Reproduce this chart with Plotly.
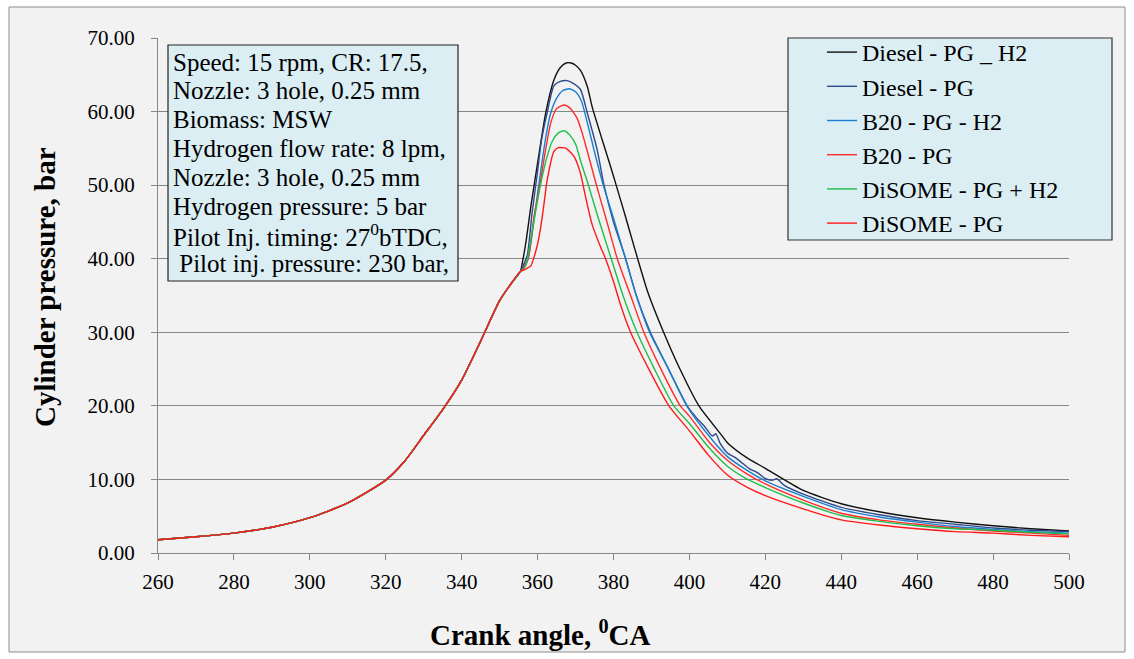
import plotly.graph_objects as go

# ---------------- data ----------------
# common compression stroke (all six curves overlap here)
angle_common = [260, 270, 280, 290, 300, 310, 320, 325, 330, 335, 340, 345, 350, 353, 355.5]
pressure_common = [1.8, 2.2, 2.7, 3.5, 4.8, 6.8, 9.9, 12.5, 16.0, 19.5, 23.5, 28.8, 34.3, 36.6, 38.3]

# combustion / expansion part of each curve
angle_diesel_pg_h2 = [356, 357, 358.2, 360, 362.1, 364.3, 366, 367.5, 368.8, 370, 371.3, 373.1, 374.4,
                      377, 379, 380.7, 383, 385.8, 389, 393.2, 397.5, 402.5, 408.2, 410, 415, 420,
                      430, 440, 450, 460, 470, 480, 490, 500]
p_diesel_pg_h2 = [39.5, 42.5, 47, 53, 59.7, 64.3, 66.0, 66.6, 66.6, 66.3, 65.6, 63.4, 60.6,
                  56.2, 52.9, 50, 46, 41, 35.5, 30, 25, 20, 16.2, 15.0, 13.0, 11.5,
                  8.5, 6.7, 5.6, 4.8, 4.2, 3.7, 3.3, 3.0]

angle_diesel_pg = [356, 357.3, 358.5, 359.9, 361, 362.5, 364.3, 366, 367.8, 369.5, 371.3, 373.1, 375.7,
                   377.5, 380, 383.2, 386, 389.7, 394.5, 399.4, 402, 404, 406, 407, 408, 410, 412,
                   414, 416, 418, 420, 422, 423, 425, 430, 440, 450, 460, 470, 480, 490, 500]
p_diesel_pg = [38.8, 40.5, 46, 51.5, 56, 59.8, 63.5, 64.1, 64.2, 63.8, 63.0, 59.8, 54.8,
               50, 45, 40, 35, 30, 25, 20, 18.3, 17.2, 15.9, 16.2, 15.0, 13.6, 13.0,
               12.2, 11.4, 10.9, 10.1, 9.9, 10.1, 9.2, 8.0, 6.2, 5.2, 4.4, 3.9, 3.4, 3.1, 2.9]

angle_b20_pg_h2 = [356, 357.5, 359, 360.3, 362, 363.4, 365, 366.5, 368.3, 370, 371.5, 373.1, 375,
                   377.3, 380, 383, 386, 389.5, 394.5, 399.3, 405, 410, 415, 420, 430, 440, 450,
                   460, 470, 480, 490, 500]
p_b20_pg_h2 = [38.6, 40, 45, 50, 56, 59.7, 61.8, 62.8, 63.1, 62.7, 61.5, 58.5, 54.5,
               50, 45.5, 40.3, 35, 30, 25, 20, 16.0, 13.1, 11.3, 9.8, 7.7, 5.9, 4.9,
               4.2, 3.6, 3.2, 2.9, 2.7]

angle_b20_pg = [356, 357.5, 359, 360.6, 362, 363.5, 365, 367, 368.5, 370.4, 371.8, 373.1, 375.5,
                378, 381, 384.5, 388, 392.5, 397.6, 400, 405, 410, 415, 420, 430, 440, 450,
                460, 470, 480, 490, 500]
p_b20_pg = [38.5, 40, 45.5, 50, 54.5, 58.5, 60.4, 60.9, 60.5, 59.1, 57, 54.6, 50,
            45.5, 40, 35, 30, 25, 20, 18.6, 15.2, 12.6, 10.8, 9.4, 7.2, 5.4, 4.5,
            3.9, 3.4, 3.0, 2.7, 2.4]

angle_disome_pg_h2 = [356, 357, 358.2, 359.5, 360.8, 362.3, 363.9, 365.5, 367, 368.5, 370, 371.5,
                      373.1, 375.7, 379.4, 382.5, 386.2, 390.8, 395.9, 400, 405, 410, 415, 420,
                      430, 440, 450, 460, 470, 480, 490, 500]
p_disome_pg_h2 = [38.4, 39.2, 42.6, 46.5, 50.1, 53.5, 56, 57.1, 57.4, 56.8, 55.6, 53,
                  50.5, 46, 40, 35, 30, 25, 20, 17.6, 14.4, 11.8, 10.1, 8.9,
                  6.8, 5.1, 4.3, 3.7, 3.3, 3.1, 2.8, 2.6]

angle_disome_pg = [356, 357.2, 358.2, 359, 360, 360.8, 361.7, 362.5, 364.3, 365.5, 367.5, 369.6,
                   371.3, 372.6, 374.4, 376.6, 377.9, 380, 382, 384.5, 389.3, 394.6, 400, 405,
                   410, 415, 420, 430, 440, 450, 460, 470, 480, 490, 500]
p_disome_pg = [38.4, 38.7, 39, 40.1, 42, 44.2, 47.5, 50.6, 54.6, 55.1, 55.0, 53.9,
               51.6, 48.5, 44.6, 41.6, 40, 36.9, 33.5, 30, 25, 20, 16.6, 13.3,
               10.6, 9.0, 7.8, 6.0, 4.5, 3.8, 3.3, 2.9, 2.7, 2.4, 2.2]

series_names = ["Diesel - PG _ H2", "Diesel - PG", "B20 - PG - H2", "B20 - PG",
                "DiSOME - PG + H2", "DiSOME - PG"]
series_colors = ["#111111", "#2e4a8c", "#1a7fd0", "#ff2a2a", "#1fbf4a", "#ff1a1a"]
series_angles = [angle_diesel_pg_h2, angle_diesel_pg, angle_b20_pg_h2, angle_b20_pg,
                 angle_disome_pg_h2, angle_disome_pg]
series_pressures = [p_diesel_pg_h2, p_diesel_pg, p_b20_pg_h2, p_b20_pg, p_disome_pg_h2, p_disome_pg]

y_ticks = [0, 10, 20, 30, 40, 50, 60, 70]
x_ticks = [260, 280, 300, 320, 340, 360, 380, 400, 420, 440, 460, 480, 500]

note_lines = ["Speed: 15 rpm, CR: 17.5,", "Nozzle: 3 hole, 0.25 mm", "Biomass: MSW",
              "Hydrogen flow rate: 8 lpm,", "Nozzle: 3 hole, 0.25 mm",
              "Hydrogen pressure: 5 bar", "Pilot Inj. timing: 27<sup>0</sup>bTDC,",
              "\u00a0Pilot inj. pressure: 230 bar,"]

# ---------------- figure ----------------
W, H = 1134, 659
L, R, T, B = 158, 65, 38, 106
pw, ph = W - L - R, H - T - B

def px(xp):
    return (xp - L) / pw

def py(yp):
    return (H - B - yp) / ph

FONT = "Liberation Serif, Times New Roman, serif"

fig = go.Figure()
for name, col, xs, ys in zip(series_names, series_colors, series_angles, series_pressures):
    fig.add_trace(go.Scatter(
        x=angle_common + xs, y=pressure_common + ys, mode="lines", name=name,
        line=dict(color=col, width=1.4, shape="spline", smoothing=0.6),
    ))

shapes = [
    # outer chart frame
    dict(type="rect", xref="paper", yref="paper", x0=px(9), x1=px(1125), y0=py(652), y1=py(7),
         fillcolor="#f2f2f2", line=dict(color="#8c8c8c", width=1), layer="below"),
    # legend box
    dict(type="rect", xref="paper", yref="paper", x0=px(788), x1=px(1112), y0=py(240), y1=py(38),
         fillcolor="#dbeef4", line=dict(color="#333333", width=1.2), layer="above"),
    # note box
    dict(type="rect", xref="paper", yref="paper", x0=px(168), x1=px(458), y0=py(281), y1=py(45),
         fillcolor="#dbeef4", line=dict(color="#222222", width=1.2), layer="above"),
]

annotations = [
    dict(text="<b>Cylinder pressure, bar</b>", xref="paper", yref="paper", x=px(45), y=py(287),
         showarrow=False, textangle=-90, font=dict(family=FONT, size=29, color="#000"),
         xanchor="center", yanchor="middle"),
    dict(text="<b>Crank angle, <sup>0</sup>CA</b>", xref="paper", yref="paper", x=px(540), y=py(633),
         showarrow=False, font=dict(family=FONT, size=29, color="#000"),
         xanchor="center", yanchor="middle"),
]
for i, line in enumerate(note_lines):
    annotations.append(dict(
        text=line, xref="paper", yref="paper", x=px(171), y=py(62 + 28.8 * i),
        xanchor="left", yanchor="middle", align="left", showarrow=False,
        font=dict(family=FONT, size=25, color="#000")))

fig.update_layout(
    width=W, height=H,
    margin=dict(l=L, r=R, t=T, b=B),
    paper_bgcolor="white",
    plot_bgcolor="rgba(0,0,0,0)",
    font=dict(family=FONT, color="#000000"),
    shapes=shapes,
    annotations=annotations,
    showlegend=True,
    legend=dict(
        x=px(822), y=py(30), xanchor="left", yanchor="top",
        bgcolor="rgba(0,0,0,0)", borderwidth=0,
        font=dict(family=FONT, size=24, color="#000000"),
        tracegroupgap=0, itemwidth=30,
    ),
    xaxis=dict(
        range=[260, 500], tickvals=x_ticks, ticktext=[str(v) for v in x_ticks],
        showgrid=False, zeroline=False, showline=True, linecolor="#868686", linewidth=1,
        ticks="outside", ticklen=6, tickcolor="#868686", ticklabelstandoff=4,
        tickfont=dict(family=FONT, size=21, color="#000000"),
    ),
    yaxis=dict(
        range=[0, 70], tickvals=y_ticks, ticktext=[f"{v:.2f}" for v in y_ticks],
        showgrid=True, gridcolor="#868686", gridwidth=1, zeroline=False,
        showline=True, linecolor="#868686", linewidth=1,
        ticks="outside", ticklen=6, tickcolor="#868686", ticklabelstandoff=12,
        tickfont=dict(family=FONT, size=21, color="#000000"),
    ),
)

fig.write_html("out.html")
